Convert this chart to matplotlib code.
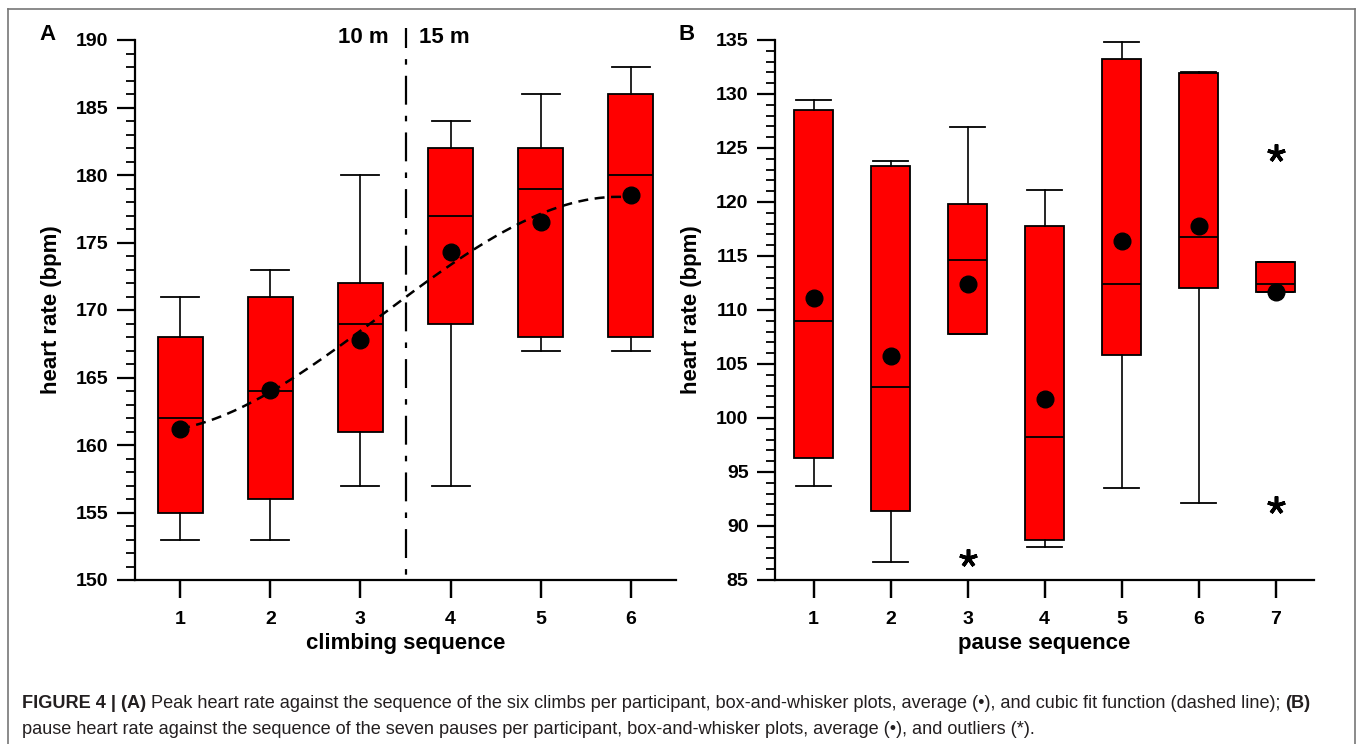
import numpy as np
import matplotlib
matplotlib.use("Agg")
import matplotlib.pyplot as plt
from matplotlib.text import Annotation
from matplotlib.lines import Line2D

plt.rcParams["font.family"] = ["Liberation Sans", "DejaVu Sans"]

# Panel A - peak heart rate per climb
climb_seq = [1, 2, 3, 4, 5, 6]
climb_whislo = [153, 153, 157, 157, 167, 167]
climb_q1 = [155, 156, 161, 169, 168, 168]
climb_med = [162, 164, 169, 177, 179, 180]
climb_q3 = [168, 171, 172, 182, 182, 186]
climb_whishi = [171, 173, 180, 184, 186, 188]
climb_mean = [161.2, 164.1, 167.8, 174.3, 176.5, 178.5]

# Panel B - pause heart rate per pause
pause_seq = [1, 2, 3, 4, 5, 6, 7]
pause_whislo = [93.7, 86.7, 107.8, 88.1, 93.5, 92.1, 111.7]
pause_q1 = [96.3, 91.4, 107.8, 88.7, 105.8, 112.0, 111.7]
pause_med = [109.0, 102.9, 114.6, 98.2, 112.4, 116.8, 112.4]
pause_q3 = [128.5, 123.3, 119.8, 117.8, 133.2, 131.9, 114.4]
pause_whishi = [129.4, 123.8, 126.9, 121.1, 134.8, 132.0, 114.4]
pause_mean = [111.1, 105.7, 112.4, 101.8, 116.4, 117.8, 111.7]
pause_outliers = [[], [], [87.0], [], [], [], [124.5, 91.9]]


def make_stats(lo, q1, med, q3, hi, mean, fliers=None):
    out = []
    for i in range(len(med)):
        out.append({"whislo": lo[i], "q1": q1[i], "med": med[i], "q3": q3[i],
                    "whishi": hi[i], "mean": mean[i],
                    "fliers": fliers[i] if fliers else []})
    return out


fig = plt.figure(figsize=(13.57, 7.44), dpi=100)
W, H = 1357, 744


def style_axes(ax, ylo, yhi, nx):
    ax.set_xlim(0.5, nx + 0.5)
    ax.set_ylim(ylo, yhi)
    ax.spines["top"].set_visible(False)
    ax.spines["right"].set_visible(False)
    ax.spines["left"].set_linewidth(1.6)
    ax.spines["bottom"].set_linewidth(1.6)
    ax.set_yticks(np.arange(ylo, yhi + 1, 5))
    ax.set_yticks(np.arange(ylo, yhi + 1, 1), minor=True)
    ax.set_xticks(range(1, nx + 1))
    ax.set_xticklabels([str(i) for i in range(1, nx + 1)])
    ax.tick_params(axis="y", which="major", length=13, width=1.6, pad=6,
                   labelsize=14)
    ax.tick_params(axis="y", which="minor", length=6.5, width=1.3)
    ax.tick_params(axis="x", which="major", length=13, width=1.6, pad=9,
                   labelsize=14)
    for lab in ax.get_xticklabels() + ax.get_yticklabels():
        lab.set_fontweight("bold")
    ax.set_ylabel("heart rate (bpm)", fontsize=16, fontweight="bold", labelpad=10)


box_kw = dict(patch_artist=True, showmeans=True, widths=0.5,
              boxprops=dict(facecolor="#ff0000", edgecolor="black", linewidth=1.3),
              medianprops=dict(color="black", linewidth=1.3),
              whiskerprops=dict(color="black", linewidth=1.2),
              capprops=dict(color="black", linewidth=1.3),
              meanprops=dict(marker="o", markerfacecolor="black",
                             markeredgecolor="black", markersize=12))

# ---- Panel A
axA = fig.add_axes([135 / W, 1 - 580 / H, 541 / W, 540 / H])
style_axes(axA, 150, 190, 6)
axA.bxp(make_stats(climb_whislo, climb_q1, climb_med, climb_q3, climb_whishi,
                   climb_mean), positions=climb_seq, capwidths=0.42, **box_kw)

# cubic fit of the averages
coef = np.polyfit(climb_seq, climb_mean, 3)
xf = np.linspace(1, 6, 200)
axA.plot(xf, np.polyval(coef, xf), color="black", lw=1.8,
         linestyle=(0, (4, 2.6)), zorder=3)

# 10 m / 15 m separator
axA.plot([3.5, 3.5], [190.9, 150], color="black", lw=1.6, clip_on=False,
         linestyle=(4, (13, 5, 2.5, 5)), zorder=1)
axA.text(3.31, 190.2, "10 m", ha="right", va="center", fontsize=16,
         fontweight="bold")
axA.text(3.645, 190.2, "15 m", ha="left", va="center", fontsize=16,
         fontweight="bold")
axA.set_xlabel("climbing sequence", fontsize=16, fontweight="bold", labelpad=4)

# ---- Panel B
axB = fig.add_axes([775 / W, 1 - 580 / H, 539 / W, 540 / H])
style_axes(axB, 85, 135, 7)
box_kw_b = dict(box_kw)
box_kw_b["flierprops"] = dict(marker=(5, 2, 0), markersize=13,
                              markeredgewidth=2.6, markeredgecolor="black")
axB.bxp(make_stats(pause_whislo, pause_q1, pause_med, pause_q3, pause_whishi,
                   pause_mean, pause_outliers), positions=pause_seq,
        capwidths=0.46, **box_kw_b)
axB.set_xlabel("pause sequence", fontsize=16, fontweight="bold", labelpad=4)

fig.text(48 / W, 1 - 35 / H, "A", ha="center", va="center", fontsize=16,
         fontweight="bold")
fig.text(687 / W, 1 - 35 / H, "B", ha="center", va="center", fontsize=16,
         fontweight="bold")

# outer frame
frame_kw = dict(color="#777777", lw=1.2, transform=fig.transFigure)
fig.add_artist(Line2D([8 / W, 8 / W], [0, 1 - 9 / H], **frame_kw))
fig.add_artist(Line2D([8 / W, 1355 / W], [1 - 9 / H, 1 - 9 / H], **frame_kw))
fig.add_artist(Line2D([1355 / W, 1355 / W], [0, 1 - 9 / H], **frame_kw))

# caption
cap_kw = dict(fontsize=13.1, color="#231f20")
line1 = [("FIGURE 4 | (A)", "bold"),
         (" Peak heart rate against the sequence of the six climbs per participant, "
          "box-and-whisker plots, average (\u2022), and cubic fit function (dashed line); ",
          "normal"),
         ("(B)", "bold")]
prev = fig.text(22 / W, 1 - 708 / H, line1[0][0], fontweight=line1[0][1],
                va="baseline", **cap_kw)
for s, wt in line1[1:]:
    prev = fig.add_artist(Annotation(s, xy=(1, 0), xycoords=prev,
                                     ha="left", va="bottom", fontweight=wt,
                                     **cap_kw))
fig.text(22 / W, 1 - 734 / H,
         "pause heart rate against the sequence of the seven pauses per participant, "
         "box-and-whisker plots, average (\u2022), and outliers (*).",
         va="baseline", **cap_kw)

fig.savefig("out.png", dpi=100)
